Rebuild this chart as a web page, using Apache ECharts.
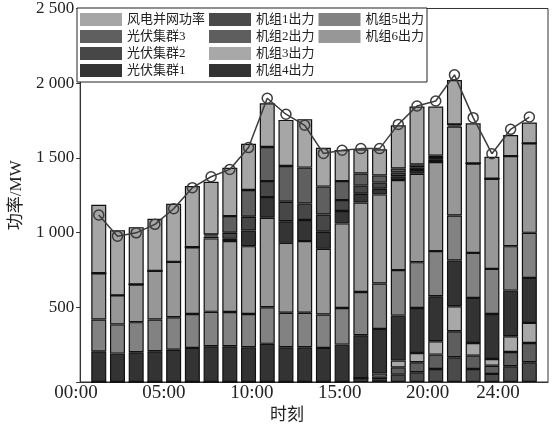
<!DOCTYPE html>
<html>
<head>
<meta charset="utf-8">
<script src="https://cdn.jsdelivr.net/npm/echarts@6/dist/echarts.min.js"></script>
<style>html,body{margin:0;padding:0;background:#fff}#c{width:553px;height:429px}</style>
</head>
<body>
<div id="c"></div>
<script>
// time slots (bars)
const hours = ['1','2','3','4','5','6','7','8','9','10','11','12','13','14','15','16','17','18','19','20','21','22','23','24'];
// x tick labels
const tickHours = [0,5,10,15,20,24];
const tickLabels = ['00:00','05:00','10:00','15:00','20:00','24:00'];
// series values (MW)
const unit1 = [0,0,0,0,0,0,0,0,0,0,0,0,0,0,25,18,49,65,87,165,87,54,105,132];
const unit2 = [0,0,0,0,0,0,0,0,0,0,0,0,0,0,0,18,49,67,96,174,89,55,96,129];
const unit3 = [0,0,0,0,0,0,0,0,0,0,0,0,0,0,0,20,45,62,89,167,85,45,105,134];
const unit4 = [205,190,199,206,216,228,239,239,232,255,232,232,228,250,288,299,301,301,301,306,301,301,305,301];
const unit5 = [213,195,201,212,217,227,230,229,223,245,231,231,223,245,289,303,304,306,302,301,301,301,297,301];
const unit6 = [309,194,252,325,370,446,491,474,453,598,467,479,439,565,598,596,602,591,595,594,598,603,602,598];
const pv1 = [0,0,0,0,0,0,12,15,105,138,145,141,114,83,58,38,25,25,15,8,0,0,0,0];
const pv2 = [0,0,0,0,0,0,8,41,92,107,130,111,116,73,55,41,25,18,12,7,0,0,0,0];
const pv3 = [0,0,0,0,0,0,6,111,178,228,239,239,186,127,81,48,27,20,15,0,0,0,0,0];
const wind = [458,436,383,348,388,409,353,323,310,292,308,324,260,208,161,175,289,386,329,297,268,147,141,139];
const load = [1116,975,997,1054,1158,1299,1372,1421,1567,1897,1790,1716,1528,1549,1560,1560,1722,1845,1878,2053,1767,1526,1689,1771];

const serif = '"Liberation Serif","Noto Sans CJK SC",serif';
const stackDefs = [
  ['机组1出力', unit1, '#4a4a4a'],
  ['机组2出力', unit2, '#5e5e5e'],
  ['机组3出力', unit3, '#a8a8a8'],
  ['机组4出力', unit4, '#333333'],
  ['机组5出力', unit5, '#828282'],
  ['机组6出力', unit6, '#979797'],
  ['光伏集群1', pv1, '#343434'],
  ['光伏集群2', pv2, '#474747'],
  ['光伏集群3', pv3, '#5f5f5f'],
  ['风电并网功率', wind, '#a6a6a6']
];
const legendOrder = ['风电并网功率','光伏集群3','光伏集群2','光伏集群1','机组1出力','机组2出力','机组3出力','机组4出力','机组5出力','机组6出力'];

const series = stackDefs.map(([name, vals, color]) => ({
  name, type: 'bar', stack: 'total', xAxisIndex: 1, yAxisIndex: 1,
  barWidth: 15,
  itemStyle: { color, borderColor: '#111', borderWidth: 1.2 },
  data: vals.slice()
}));
series.push({
  name: '负荷', type: 'line', xAxisIndex: 1, yAxisIndex: 1, z: 5,
  symbol: 'circle', symbolSize: 10,
  lineStyle: { color: '#3c3c3c', width: 1.5 },
  itemStyle: { color: 'rgba(0,0,0,0)', borderColor: '#3c3c3c', borderWidth: 1.5 },
  data: load.slice()
});

const chart = echarts.init(document.getElementById('c'), null, { renderer: 'canvas' });
chart.setOption({
  animation: false,
  backgroundColor: '#fff',
  grid: [
    { left: 80, right: 5, top: 8, bottom: 47, show: true, borderColor: '#333', borderWidth: 1, backgroundColor: 'transparent' },
    { left: 89.4, width: 449.3, top: 8, bottom: 47 },
    { left: 76, width: 422, top: 8, bottom: 47 }
  ],
  legend: {
    data: legendOrder,
    orient: 'vertical',
    left: 77, top: 8, height: 66,
    padding: [5, 3, 5, 3],
    itemWidth: 42, itemHeight: 13, itemGap: 4,
    backgroundColor: '#fff', borderColor: '#222', borderWidth: 1,
    icon: 'rect', selectedMode: false,
    itemStyle: { borderWidth: 0 },
    textStyle: { fontFamily: serif, fontSize: 13, color: '#222', lineHeight: 13 }
  },
  xAxis: [
    { type: 'value', gridIndex: 0, min: 0, max: 25,
      axisLine: { show: true, lineStyle: { color: '#333' } },
      axisTick: { show: false }, axisLabel: { show: false }, splitLine: { show: false } },
    { type: 'category', gridIndex: 1, data: hours, boundaryGap: true, show: false },
    { type: 'value', gridIndex: 2, min: 0, max: 24, interval: 5, position: 'bottom',
      name: '时刻', nameLocation: 'middle', nameGap: 30,
      nameTextStyle: { fontFamily: serif, fontSize: 17, color: '#222' },
      axisLine: { show: false }, axisTick: { show: false }, splitLine: { show: false },
      axisLabel: { margin: 8, fontFamily: serif, fontSize: 19, color: '#222',
        showMinLabel: true, showMaxLabel: true,
        formatter: v => { const k = tickHours.indexOf(v); return k >= 0 ? tickLabels[k] : ''; } } }
  ],
  yAxis: [
    { type: 'value', gridIndex: 0, min: 0, max: 2500, interval: 500,
      name: '功率/MW', nameLocation: 'middle', nameGap: 54, nameRotate: 90,
      nameTextStyle: { fontFamily: serif, fontSize: 17, color: '#222' },
      axisLine: { show: true, lineStyle: { color: '#333' } },
      axisTick: { show: true, inside: false, length: 4, lineStyle: { color: '#333' } },
      splitLine: { show: false },
      axisLabel: { margin: 6, fontFamily: serif, fontSize: 17, color: '#222',
        formatter: v => v === 0 ? '' : (v >= 1000 ? Math.floor(v/1000) + ' ' + String(v%1000).padStart(3,'0') : String(v)) } },
    { type: 'value', gridIndex: 1, min: 0, max: 2500, interval: 500, show: false },
    { type: 'value', gridIndex: 2, min: 0, max: 2500, show: false }
  ],
  series
});
</script>
</body>
</html>
